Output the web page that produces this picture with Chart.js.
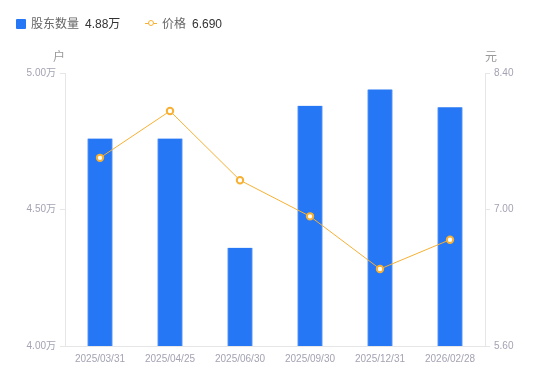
<!DOCTYPE html>
<html><head><meta charset="utf-8">
<script src="https://cdn.jsdelivr.net/npm/chart.js@4/dist/chart.umd.min.js"></script>
<style>
html,body{margin:0;padding:0;background:#fff;}
#wrap{position:relative;width:550px;height:381px;font-family:'Liberation Sans','Noto Sans CJK SC',sans-serif;}
#c{position:absolute;left:0;top:0;}
.lg{position:absolute;top:16px;font-size:12px;line-height:16px;white-space:nowrap;}
.lg .n{color:#666;}
.lg .v{color:#333;margin-left:6px;}
</style></head>
<body><div id="wrap">
<canvas id="c" width="550" height="381"></canvas>
<div class="lg" style="left:16px"><span style="display:inline-block;width:10px;height:10px;background:#2577f5;border-radius:1px;margin-right:5px;vertical-align:-1px"></span><span class="n">股东数量</span><span class="v" id="v1"></span></div>
<div class="lg" style="left:145px"><span style="display:inline-block;position:relative;width:12px;height:10px;margin-right:5px;vertical-align:-1px"><span style="position:absolute;left:0;top:4px;width:12px;height:1px;background:#f7b032"></span><span style="position:absolute;left:3px;top:1px;width:4px;height:4px;border:1.5px solid #f7b032;border-radius:50%;background:#fff"></span></span><span class="n">价格</span><span class="v" id="v2"></span></div>
</div>
<script>
const categories = ['2025/03/31','2025/04/25','2025/06/30','2025/09/30','2025/12/31','2026/02/28'];
const holders = [4.76, 4.76, 4.36, 4.88, 4.94, 4.875];
const prices = [7.53, 8.01, 7.30, 6.93, 6.39, 6.69];
const leftTicks = [4.00, 4.50, 5.00];
const rightTicks = [5.60, 7.00, 8.40];
const leftUnit = '户';
const rightUnit = '元';

document.getElementById('v1').textContent = holders[holders.length-1].toFixed(2) + '万';
document.getElementById('v2').textContent = prices[prices.length-1].toFixed(3);

const tickColor = '#a3a3b3';
const lineColor = '#e6e6e6';
const fontFam = "'Liberation Sans','Noto Sans CJK SC',sans-serif";

const unitPlugin = {
  id: 'units',
  afterDraw(chart) {
    const ctx = chart.ctx;
    const a = chart.chartArea;
    ctx.save();
    ctx.font = '12px ' + fontFam;
    ctx.fillStyle = '#999';
    ctx.textBaseline = 'middle';
    ctx.textAlign = 'right';
    ctx.fillText(leftUnit, a.left, a.top - 15);
    ctx.textAlign = 'left';
    ctx.fillText(rightUnit, a.right, a.top - 15);
    ctx.restore();
  }
};

new Chart(document.getElementById('c'), {
  data: {
    labels: categories,
    datasets: [
      { type: 'line', label: '价格', data: prices, yAxisID: 'y1', order: 0,
        borderColor: '#f7b032', borderWidth: 1, backgroundColor: '#fff',
        pointRadius: 3.2, pointBorderWidth: 2, pointBorderColor: '#f7b032', pointBackgroundColor: '#fff',
        tension: 0 },
      { type: 'bar', label: '股东数量', data: holders, yAxisID: 'y', order: 1,
        backgroundColor: '#2577f5', borderColor: '#8ab4f8', borderWidth: {left:1,right:1,top:0,bottom:0},
        barThickness: 25 }
    ]
  },
  options: {
    responsive: false, animation: false,
    layout: { padding: { top: 73, left: 0, right: 0, bottom: 0 } },
    plugins: { legend: { display: false }, tooltip: { enabled: false } },
    scales: {
      x: {
        offset: true,
        grid: { display: false, drawTicks: false },
        border: { display: true, color: lineColor },
        ticks: { color: tickColor, font: { size: 10, family: fontFam }, padding: 7, maxRotation: 0 },
        afterFit(s) { s.height = 35; }
      },
      y: {
        position: 'left', min: 4, max: 5,
        afterBuildTicks(s) { s.ticks = leftTicks.map(v => ({ value: v })); },
        grid: { drawOnChartArea: false, drawTicks: true, tickLength: 5, color: lineColor },
        border: { display: true, color: lineColor },
        ticks: { color: tickColor, font: { size: 10, family: fontFam }, padding: 4,
          callback: v => Number(v).toFixed(2) + '万' },
        afterFit(s) { s.width = 65; }
      },
      y1: {
        position: 'right', min: 5.6, max: 8.4,
        afterBuildTicks(s) { s.ticks = rightTicks.map(v => ({ value: v })); },
        grid: { drawOnChartArea: false, drawTicks: true, tickLength: 5, color: lineColor },
        border: { display: true, color: lineColor },
        ticks: { color: tickColor, font: { size: 10, family: fontFam }, padding: 4,
          callback: v => Number(v).toFixed(2) },
        afterFit(s) { s.width = 65; }
      }
    }
  },
  plugins: [unitPlugin]
});
</script>
</body></html>
